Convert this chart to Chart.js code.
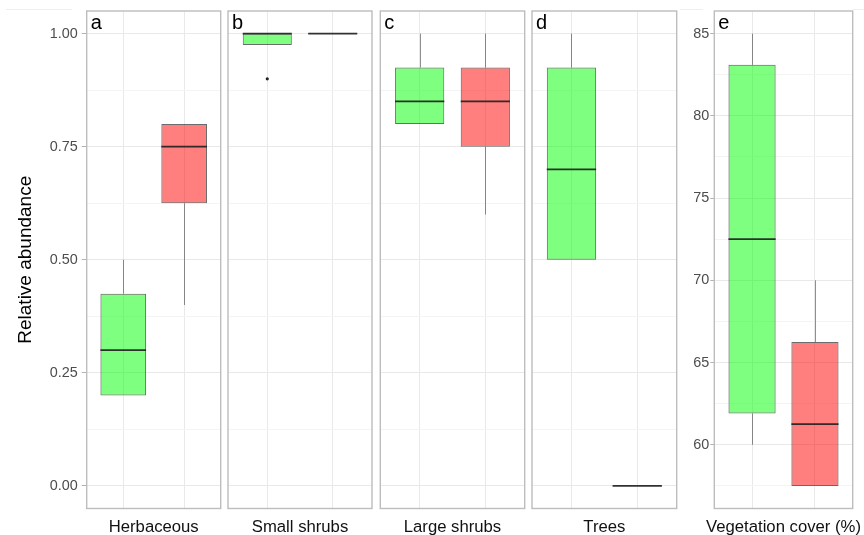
<!DOCTYPE html>
<html>
<head>
<meta charset="utf-8">
<script src="https://cdn.jsdelivr.net/npm/chart.js@4.4.1/dist/chart.umd.min.js"></script>
<style>
  html, body { margin: 0; padding: 0; background: #fff; }
  #fig { position: relative; width: 864px; height: 535px; overflow: hidden; background: #fff; }
  #fig canvas { position: absolute; top: 0; }
  .rule { position: absolute; top: 9px; height: 1px; background: #efefef; }
</style>
</head>
<body>
<div id="fig">
  <div class="rule" style="left:6px;width:66px"></div>
  <div class="rule" style="left:680px;width:23px"></div>
  <div class="rule" style="left:853px;width:11px"></div>
</div>
<script>
// ---- data -------------------------------------------------------------
// Two groups per panel (first box green, second box red).
const groupNames = ['Group 1', 'Group 2'];
const panelTags = ['a', 'b', 'c', 'd', 'e'];
const panelTitles = ['Herbaceous', 'Small shrubs', 'Large shrubs', 'Trees', 'Vegetation cover (%)'];
const abundanceTicks = [0, 0.25, 0.5, 0.75, 1];
const coverTicks = [60, 65, 70, 75, 80, 85];

// Five-number summaries per group: [lower whisker, Q1, median, Q3, upper whisker]
const herbaceous      = [[0.20, 0.20, 0.30, 0.425, 0.50], [0.40, 0.625, 0.75, 0.80, 0.80]];
const smallShrubs     = [[0.975, 0.975, 1.00, 1.00, 1.00], [1.00, 1.00, 1.00, 1.00, 1.00]];
const largeShrubs     = [[0.80, 0.80, 0.85, 0.925, 1.00], [0.60, 0.75, 0.85, 0.925, 1.00]];
const trees           = [[0.50, 0.50, 0.70, 0.925, 1.00], [0.00, 0.00, 0.00, 0.00, 0.00]];
const vegetationCover = [[60.0, 61.9, 72.5, 83.1, 85.0], [57.5, 57.5, 61.25, 66.25, 70.0]];

// Points beyond the whiskers
const herbaceousOutliers      = [[], []];
const smallShrubsOutliers     = [[0.90], []];
const largeShrubsOutliers     = [[], []];
const treesOutliers           = [[], []];
const vegetationCoverOutliers = [[], []];

// ---- style ------------------------------------------------------------
const FONT = "'Liberation Sans', Arial, Helvetica, sans-serif";
const groupFills = ['rgba(0,255,0,0.5)', 'rgba(255,0,0,0.5)'];
const boxLine = 'rgba(51,51,51,0.72)';
const whiskerLine = 'rgba(51,51,51,0.55)';
const medianLine = 'rgba(34,34,34,0.92)';
const majorGrid = '#e9e9e9';
const minorGrid = '#f4f4f4';
const frameColor = '#bdbdbd';

// ggplot-like continuous range: data range expanded by 5% on each side
function paddedRange(sets) {
  const vals = [];
  sets.forEach(s => s.forEach(g => g.forEach(v => vals.push(v))));
  const lo = Math.min(...vals), hi = Math.max(...vals), pad = (hi - lo) * 0.05;
  return [lo - pad, hi + pad];
}
// Major ticks plus minor ticks halfway between them, kept inside the range
function withMinor(major, lo, hi) {
  const step = major[1] - major[0];
  const out = [];
  const minors = [major[0] - step / 2, ...major.map(v => v + step / 2)];
  major.forEach(v => out.push({ value: v, isMajor: true }));
  minors.forEach(v => { if (v > lo && v < hi) out.push({ value: v, isMajor: false }); });
  return out.sort((a, b) => a.value - b.value);
}

const abundanceRange = paddedRange([herbaceous, smallShrubs, largeShrubs, trees]);
const coverRange = paddedRange([vegetationCover]);

// Panel layout (pixel geometry of each facet on the page)
const panels = [
  { stats: herbaceous, outliers: herbaceousOutliers, range: abundanceRange, ticks: abundanceTicks, decimals: 2,
    canvasLeft: 0, canvasWidth: 224, left: 86.7, right: 220.7, labels: true, tickLen: 5, tickPad: 4,
    yTitle: 'Relative abundance' },
  { stats: smallShrubs, outliers: smallShrubsOutliers, range: abundanceRange, ticks: abundanceTicks, decimals: 2,
    canvasLeft: 224, canvasWidth: 152, left: 228.0, right: 372.7, labels: false },
  { stats: largeShrubs, outliers: largeShrubsOutliers, range: abundanceRange, ticks: abundanceTicks, decimals: 2,
    canvasLeft: 376, canvasWidth: 152, left: 380.3, right: 524.7, labels: false },
  { stats: trees, outliers: treesOutliers, range: abundanceRange, ticks: abundanceTicks, decimals: 2,
    canvasLeft: 528, canvasWidth: 152, left: 532.0, right: 676.7, labels: false },
  { stats: vegetationCover, outliers: vegetationCoverOutliers, range: coverRange, ticks: coverTicks, decimals: 0,
    canvasLeft: 680, canvasWidth: 184, left: 714.3, right: 852.7, labels: true, tickLen: 4, tickPad: 1 }
];
const PANEL_TOP = 11;
const PANEL_BOTTOM = 508.5;
const FIG_H = 535;

function buildPanel(p, idx) {
  const canvas = document.createElement('canvas');
  canvas.width = p.canvasWidth;
  canvas.height = FIG_H;
  canvas.style.left = p.canvasLeft + 'px';
  canvas.style.width = p.canvasWidth + 'px';
  canvas.style.height = FIG_H + 'px';
  document.getElementById('fig').appendChild(canvas);

  const yAxisWidth = p.left - p.canvasLeft;
  const rightPad = p.canvasWidth - (p.right - p.canvasLeft);
  const [yMin, yMax] = p.range;
  const yTicks = withMinor(p.ticks, yMin, yMax);
  const groupX = groupNames.map((_, i) => i + 1);

  const boxPlot = {
    id: 'boxPlot' + idx,
    beforeDatasetsDraw(chart) {
      const ctx = chart.ctx, ys = chart.scales.y;
      const bars = chart.getDatasetMeta(0).data;
      ctx.save();
      ctx.strokeStyle = whiskerLine;
      ctx.lineWidth = 1;
      p.stats.forEach((s, i) => {
        const x = Math.round(bars[i].x) + 0.5;
        const seg = (a, b) => {
          if (a === b) return;
          ctx.beginPath();
          ctx.moveTo(x, ys.getPixelForValue(a));
          ctx.lineTo(x, ys.getPixelForValue(b));
          ctx.stroke();
        };
        seg(s[3], s[4]);
        seg(s[0], s[1]);
      });
      ctx.restore();
    },
    afterDatasetsDraw(chart) {
      const ctx = chart.ctx, ys = chart.scales.y;
      const bars = chart.getDatasetMeta(0).data;
      ctx.save();
      ctx.strokeStyle = medianLine;
      ctx.lineWidth = 1.7;
      p.stats.forEach((s, i) => {
        const { x, width } = bars[i].getProps(['x', 'width'], true);
        const y = ys.getPixelForValue(s[2]);
        ctx.beginPath();
        ctx.moveTo(x - width / 2, y);
        ctx.lineTo(x + width / 2, y);
        ctx.stroke();
      });
      ctx.restore();
    },
    afterDraw(chart) {
      const ctx = chart.ctx, a = chart.chartArea;
      ctx.save();
      // facet frame
      ctx.strokeStyle = frameColor;
      ctx.lineWidth = 1.4;
      ctx.strokeRect(a.left, a.top, a.right - a.left, a.bottom - a.top);
      // facet tag
      ctx.fillStyle = '#000';
      ctx.font = '20px ' + FONT;
      ctx.textAlign = 'left';
      ctx.textBaseline = 'alphabetic';
      ctx.fillText(panelTags[idx], a.left + 4, a.top + 18.3);
      // facet x title
      ctx.fillStyle = '#111';
      ctx.font = '16.7px ' + FONT;
      ctx.textAlign = 'center';
      ctx.fillText(panelTitles[idx], (a.left + a.right) / 2, 532);
      ctx.restore();
    }
  };

  return new Chart(canvas, {
    type: 'bar',
    data: {
      datasets: [
        {
          type: 'bar',
          label: 'box',
          data: p.stats.map((s, i) => ({ x: groupX[i], y: [s[1], s[3]] })),
          backgroundColor: groupFills,
          borderColor: boxLine,
          borderWidth: 1,
          borderSkipped: false,
          categoryPercentage: 1,
          barPercentage: 0.75
        },
        {
          type: 'scatter',
          label: 'outliers',
          data: p.outliers.flatMap((arr, i) => arr.map(v => ({ x: groupX[i], y: v }))),
          pointRadius: 1.6,
          pointBackgroundColor: '#222',
          pointBorderWidth: 0
        }
      ]
    },
    options: {
      responsive: false,
      animation: false,
      events: [],
      layout: { padding: { top: PANEL_TOP, bottom: 0, left: 0, right: rightPad } },
      plugins: { legend: { display: false }, tooltip: { enabled: false } },
      scales: {
        x: {
          type: 'linear',
          min: 0.4,
          max: groupNames.length + 0.6,
          offset: false,
          afterBuildTicks: s => { s.ticks = groupX.map(v => ({ value: v })); },
          afterFit: s => { s.height = FIG_H - PANEL_BOTTOM; s.paddingLeft = 0; s.paddingRight = 0; },
          ticks: { display: false },
          grid: { color: majorGrid, lineWidth: 1, drawTicks: false, offset: false },
          border: { display: false }
        },
        y: {
          type: 'linear',
          min: yMin,
          max: yMax,
          beginAtZero: false,
          afterBuildTicks: s => { s.ticks = yTicks.map(t => ({ value: t.value, isMajor: t.isMajor })); },
          afterFit: s => { s.width = yAxisWidth; s.paddingTop = 0; s.paddingBottom = 0; },
          ticks: {
            display: p.labels,
            autoSkip: false,
            padding: p.tickPad || 0,
            color: '#4d4d4d',
            font: { family: FONT, size: 14.4 },
            callback: (v, i, ticks) => (ticks[i].isMajor ? Number(v).toFixed(p.decimals) : '')
          },
          grid: {
            color: c => (c.tick && c.tick.isMajor ? majorGrid : minorGrid),
            lineWidth: 1,
            drawTicks: p.labels,
            tickLength: p.tickLen || 0,
            tickColor: c => (c.tick && c.tick.isMajor ? '#b3b3b3' : 'rgba(0,0,0,0)')
          },
          border: { display: false },
          title: {
            display: !!p.yTitle,
            text: p.yTitle || '',
            color: '#000',
            font: { family: FONT, size: 19, lineHeight: 1.2 },
            padding: { top: 14.3, bottom: 0 }
          }
        }
      }
    },
    plugins: [boxPlot]
  });
}

panels.forEach(buildPanel);
</script>
</body>
</html>
